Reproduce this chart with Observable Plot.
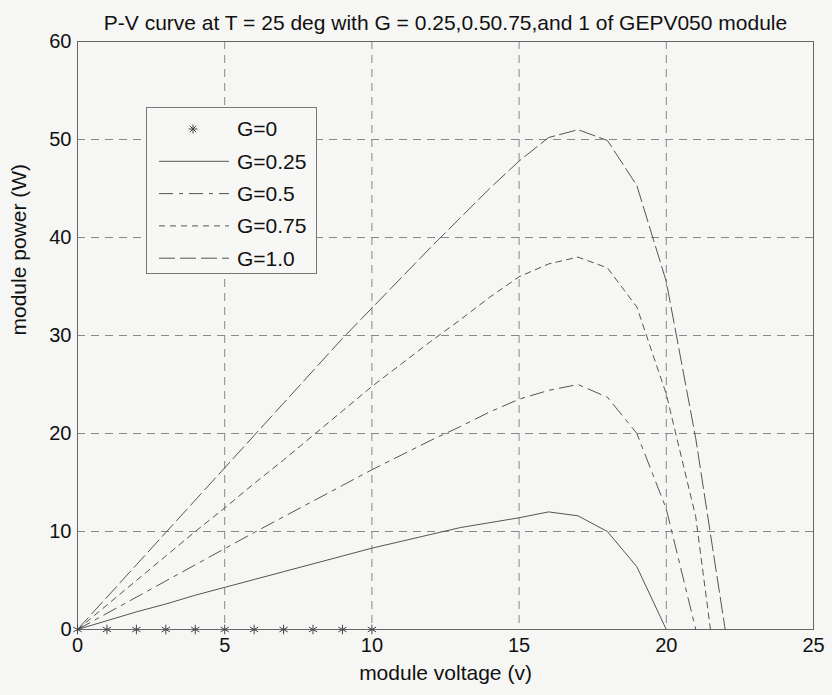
<!DOCTYPE html>
<html>
<head>
<meta charset="utf-8">
<script src="https://cdn.jsdelivr.net/npm/d3@7"></script>
<script src="https://cdn.jsdelivr.net/npm/@observablehq/plot@0.6"></script>
<style>
  html, body { margin: 0; padding: 0; background: #f6f6f4; }
  #wrap { position: relative; width: 832px; height: 695px; }
  #legend { position: absolute; left: 146px; top: 107px; width: 171px; height: 167px;
            border: 1px solid #777; background: #f7f7f5; box-sizing: border-box; }
</style>
</head>
<body>
<div id="wrap"><div id="legend"></div></div>
<script>
// ---- data ----
const titleText = "P-V curve at T = 25 deg with G = 0.25,0.50.75,and 1 of GEPV050 module";
const xLabel = "module voltage (v)";
const yLabel = "module power (W)";
const xTicks = [0, 5, 10, 15, 20, 25];
const yTicks = [0, 10, 20, 30, 40, 50, 60];

const vG0 = [0, 1, 2, 3, 4, 5, 6, 7, 8, 9, 10];
const pG0 = [0, 0, 0, 0, 0, 0, 0, 0, 0, 0, 0];

const vG025 = [0,1,2,3,4,5,6,7,8,9,10,11,12,13,14,15,16,17,18,19,20];
const pG025 = [0,0.9,1.8,2.6,3.5,4.3,5.1,5.9,6.7,7.5,8.3,9.0,9.7,10.4,10.9,11.4,12.0,11.6,10.0,6.4,0];

const vG05 = [0,1,2,3,4,5,6,7,8,9,10,11,12,13,14,15,16,17,18,19,20,21];
const pG05 = [0,1.65,3.3,4.95,6.6,8.25,9.9,11.5,13.1,14.7,16.3,17.8,19.3,20.7,22.2,23.5,24.4,25.0,23.7,20.0,12.3,0];

const vG075 = [0,1,2,3,4,5,6,7,8,9,10,11,12,13,14,15,16,17,18,19,20,21,21.5];
const pG075 = [0,2.5,5.0,7.5,10.0,12.4,14.9,17.3,19.8,22.3,24.8,27.1,29.4,31.6,33.9,36.0,37.3,38.0,36.9,32.9,24.0,11.5,0];

const vG1 = [0,1,2,3,4,5,6,7,8,9,10,11,12,13,14,15,16,17,18,19,20,21,22];
const pG1 = [0,3.3,6.6,9.9,13.2,16.5,19.8,23.1,26.4,29.7,32.8,35.9,39.0,42.0,45.0,47.8,50.2,51.0,49.9,45.3,35.5,19.5,0];

const legendLabels = ["G=0", "G=0.25", "G=0.5", "G=0.75", "G=1.0"];

// ---- build ----
const toRows = (v, p) => v.map((x, i) => ({x, y: p[i]}));
const lineStroke = "#555";
const series = [
  {rows: toRows(vG025, pG025), dash: null},
  {rows: toRows(vG05, pG05), dash: "14,6,4,6"},
  {rows: toRows(vG075, pG075), dash: "6,5"},
  {rows: toRows(vG1, pG1), dash: "16,5"}
];
const font = "'Liberation Sans', Arial, sans-serif";

const chart = Plot.plot({
  width: 832, height: 695,
  marginLeft: 77, marginRight: 19, marginTop: 41, marginBottom: 66,
  style: {background: "transparent", fontFamily: font, fontSize: "20px", color: "#111"},
  x: {domain: [0, 25], label: null},
  y: {domain: [0, 60], label: null},
  marks: [
    Plot.gridX(xTicks.slice(1, -1), {stroke: "#888", strokeOpacity: 1, strokeDasharray: "8,6"}),
    Plot.gridY(yTicks.slice(1, -1), {stroke: "#888", strokeOpacity: 1, strokeDasharray: "8,6"}),
    Plot.frame({stroke: "#666"}),
    Plot.axisX({ticks: xTicks, tickSize: 0, tickPadding: 8, fontSize: 20}),
    Plot.axisY({ticks: yTicks, tickSize: 0, tickPadding: 6, fontSize: 20}),
    ...series.map(s => Plot.line(s.rows, {x: "x", y: "y", stroke: lineStroke, strokeWidth: 1, strokeDasharray: s.dash})),
    Plot.dot(toRows(vG0, pG0), {x: "x", y: "y", symbol: "asterisk", r: 4.5, stroke: "#444", strokeWidth: 1}),
    Plot.text([titleText], {frameAnchor: "top", dy: -26, fontSize: 21, fill: "#111"}),
    Plot.text([xLabel], {frameAnchor: "bottom", dy: 50, fontSize: 21, fill: "#111"}),
    Plot.text([yLabel], {frameAnchor: "left", dx: -58, rotate: -90, fontSize: 21, fill: "#111"})
  ]
});
document.getElementById("wrap").prepend(chart);

// legend
const lg = d3.select("#legend").append("svg").attr("width", 169).attr("height", 165)
  .style("font-family", font).style("font-size", "21px");
const dashes = [null, null, "14,6,4,6", "6,5", "16,5"];
legendLabels.forEach((lab, i) => {
  const cy = 21 + i * 32.3;
  if (i === 0) {
    const g = lg.append("g").attr("transform", `translate(46,${cy})`).attr("stroke", "#444").attr("stroke-width", 1);
    for (let k = 0; k < 4; k++) {
      const a = k * Math.PI / 4;
      g.append("line").attr("x1", -4.5 * Math.cos(a)).attr("y1", -4.5 * Math.sin(a))
        .attr("x2", 4.5 * Math.cos(a)).attr("y2", 4.5 * Math.sin(a));
    }
  } else {
    lg.append("line").attr("x1", 12).attr("x2", 82).attr("y1", cy).attr("y2", cy)
      .attr("stroke", lineStroke).attr("stroke-width", 1).attr("stroke-dasharray", dashes[i]);
  }
  lg.append("text").attr("x", 90).attr("y", cy).attr("dy", "0.35em").attr("fill", "#111").text(lab);
});
</script>
</body>
</html>
